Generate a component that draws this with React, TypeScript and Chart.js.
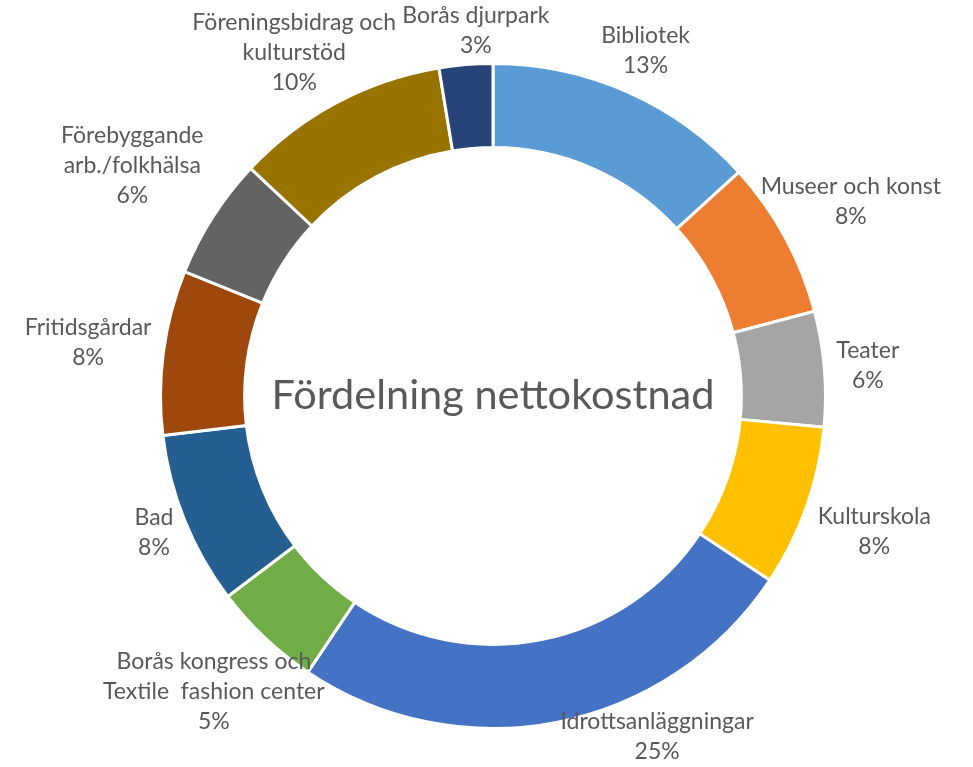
import { useEffect, useRef } from "react";
import { Chart, registerables } from "chart.js";

Chart.register(...registerables);

// ---- data ----
const categoryLines: string[][] = [
  ["Bibliotek"],
  ["Museer och konst"],
  ["Teater"],
  ["Kulturskola"],
  ["Idrottsanläggningar"],
  ["Borås kongress och", "Textile  fashion center"],
  ["Bad"],
  ["Fritidsgårdar"],
  ["Förebyggande", "arb./folkhälsa"],
  ["Föreningsbidrag och", "kulturstöd"],
  ["Borås djurpark"],
];
const values: number[] = [13.25, 7.65, 5.6, 7.85, 25.05, 5.3, 8.4, 8.0, 5.9, 10.4, 2.6];
const colors: string[] = [
  "#5B9BD5",
  "#ED7D31",
  "#A5A5A5",
  "#FFC000",
  "#4472C4",
  "#70AD47",
  "#255E91",
  "#9E480E",
  "#636363",
  "#997300",
  "#264478",
];
const centerTitle = "Fördelning nettokostnad";

// ---- style ----
const FONT = "Lato, 'Open Sans', sans-serif";
const TEXT_COLOR = "#595959";
const LABEL_SIZE = 23;
const LINE_H = 30;
const GAP = 12;
const TITLE_SIZE = 41.5;

type Box = { cx: number; cy: number };

const labelPlugin = {
  id: "outerLabels",
  afterDatasetsDraw(chart: any) {
    const ctx: CanvasRenderingContext2D = chart.ctx;
    const meta = chart.getDatasetMeta(0);
    const total = values.reduce((a, b) => a + b, 0);
    const W = chart.width;
    const H = chart.height;
    ctx.save();
    ctx.fillStyle = TEXT_COLOR;
    ctx.textAlign = "center";
    ctx.textBaseline = "middle";

    // center title
    const c0 = meta.data[0];
    ctx.font = `${TITLE_SIZE}px ${FONT}`;
    ctx.fillText(centerTitle, c0.x, c0.y);

    ctx.font = `${LABEL_SIZE}px ${FONT}`;
    const items = meta.data.map((arc: any, i: number) => {
      const p = arc.getProps(["x", "y", "startAngle", "endAngle", "outerRadius"], true);
      const lines = [...categoryLines[i], Math.round((values[i] / total) * 100) + "%"];
      const w = Math.max(...lines.map((l) => ctx.measureText(l).width));
      const h = lines.length * LINE_H;
      return { p, lines, w, h, a: (p.startAngle + p.endAngle) / 2, gap: GAP, sliding: false };
    });
    const place = (it: any, a: number, g: number): Box => {
      const ux = Math.cos(a);
      const uy = Math.sin(a);
      const ex = Math.abs(ux) > 1e-6 ? it.w / 2 / Math.abs(ux) : Infinity;
      const ey = Math.abs(uy) > 1e-6 ? it.h / 2 / Math.abs(uy) : Infinity;
      const R = it.p.outerRadius + g + Math.min(ex, ey);
      return { cx: it.p.x + R * ux, cy: it.p.y + R * uy };
    };
    const fits = (it: any, q: Box) =>
      q.cx - it.w / 2 >= 0 && q.cx + it.w / 2 <= W && q.cy - it.h / 2 >= 0 && q.cy + it.h / 2 <= H;
    const overlap = (A: any, qa: Box, B: any, qb: Box) =>
      Math.abs(qa.cx - qb.cx) < (A.w + B.w) / 2 + 4 && Math.abs(qa.cy - qb.cy) < (A.h + B.h) / 2 - 2;
    const step = (0.25 * Math.PI) / 180;
    for (let iter = 0; iter < 400; iter++) {
      let moved = false;
      items.forEach((it: any) => {
        if (fits(it, place(it, it.a, GAP))) {
          it.gap = GAP;
          return;
        }
        if (!it.sliding) {
          for (let g = GAP - 1; g >= 0; g--) {
            if (fits(it, place(it, it.a, g))) {
              it.gap = g;
              return;
            }
          }
          it.sliding = true;
        }
        it.gap = GAP;
        const ux = Math.cos(it.a);
        const uy = Math.sin(it.a);
        const dir = ux >= 0 ? (uy > 0 ? -1 : 1) : uy > 0 ? 1 : -1;
        it.a += dir * step * 2;
        moved = true;
      });
      for (let i = 0; i < items.length; i++) {
        const A = items[i];
        const B = items[(i + 1) % items.length];
        if (overlap(A, place(A, A.a, A.gap), B, place(B, B.a, B.gap))) {
          A.a -= step;
          B.a += step;
          moved = true;
        }
      }
      if (!moved) break;
    }
    items.forEach((it: any) => {
      const q = place(it, it.a, it.gap);
      it.lines.forEach((l: string, k: number) => {
        ctx.fillText(l, q.cx, q.cy - it.h / 2 + LINE_H / 2 + k * LINE_H);
      });
    });
    ctx.restore();
  },
};

export default function App() {
  const ref = useRef<HTMLCanvasElement | null>(null);
  useEffect(() => {
    if (!ref.current) return;
    const chart = new Chart(ref.current, {
      type: "doughnut",
      data: {
        labels: categoryLines.map((l) => l.join(" ")),
        datasets: [
          {
            data: values,
            backgroundColor: colors,
            borderColor: "#ffffff",
            borderWidth: 3,
            hoverBorderWidth: 3,
            hoverOffset: 0,
          },
        ],
      },
      options: {
        responsive: false,
        animation: false,
        cutout: "74.7%",
        layout: { padding: { left: 159, right: 146, top: 62, bottom: 37 } },
        plugins: {
          legend: { display: false },
          tooltip: { enabled: false },
        },
      },
      plugins: [labelPlugin],
    });
    return () => chart.destroy();
  }, []);
  return (
    <div style={{ position: "fixed", left: 0, top: 0, width: 973, height: 767, background: "#fff" }}>
      <canvas ref={ref} width={973} height={767} />
    </div>
  );
}
